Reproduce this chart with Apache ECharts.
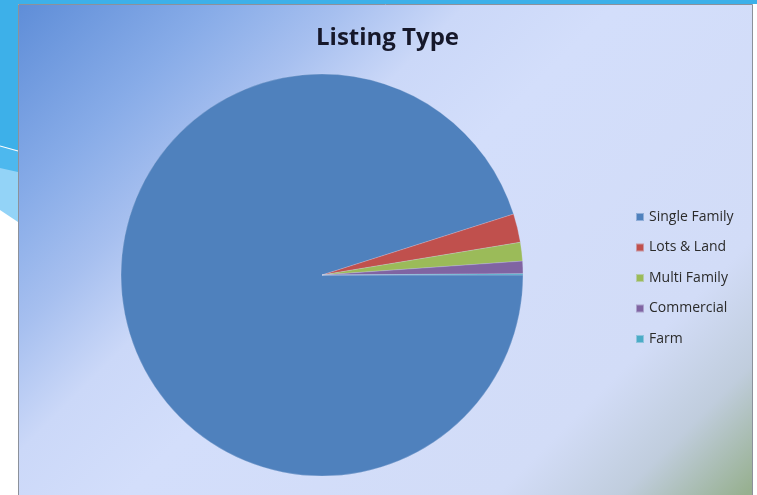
<!DOCTYPE html>
<html>
<head>
<meta charset="utf-8">
<script src="https://cdn.jsdelivr.net/npm/echarts@6/dist/echarts.min.js"></script>
<style>
html,body{margin:0;padding:0;background:#ffffff;}
#c{width:757px;height:495px;}
</style>
</head>
<body>
<div id="c"></div>
<script>
var categories = ['Single Family', 'Lots & Land', 'Multi Family', 'Commercial', 'Farm'];
var values = [951, 23, 15, 10, 1];
var colors = ['#4F81BD', '#C0504D', '#9BBB59', '#8064A2', '#4BACC6'];
var titleText = 'Listing Type';

var chart = echarts.init(document.getElementById('c'), null, {renderer: 'canvas'});
var pieData = categories.map(function (c, i) {
  return {name: c, value: values[i], itemStyle: {color: colors[i]}};
});

chart.setOption({
  animation: false,
  backgroundColor: 'transparent',
  graphic: [
    {type: 'rect', z: -10, shape: {x: 0, y: 0, width: 757, height: 495}, style: {fill: '#ffffff'}},
    {type: 'rect', z: -10, shape: {x: 0, y: 0, width: 757, height: 4}, style: {fill: '#3DB0E9'}},
    {type: 'polygon', z: -10, shape: {points: [[0, 0], [18, 0], [18, 222], [0, 210]]}, style: {fill: '#93D3F7'}},
    {type: 'polygon', z: -10, shape: {points: [[0, 0], [18, 0], [18, 172], [0, 168]]}, style: {fill: '#4DB8EE'}},
    {type: 'polygon', z: -10, shape: {points: [[0, 0], [18, 0], [18, 150], [0, 146]]}, style: {fill: '#3DB0E9'}},
    {type: 'polyline', z: -9, shape: {points: [[0, 146], [18, 151]]}, style: {stroke: '#ffffff', lineWidth: 1.2}},
    {type: 'rect', z: -8, shape: {x: 18.5, y: 4.5, width: 734, height: 495},
      style: {
        fill: new echarts.graphic.LinearGradient(0, 0, 620, 620, [
          {offset: 0, color: '#5A8AD6'},
          {offset: 0.18, color: '#88ACE8'},
          {offset: 0.28, color: '#A6BFEF'},
          {offset: 0.38, color: '#CBD8F8'},
          {offset: 0.5, color: '#D3DEFB'},
          {offset: 0.8, color: '#D2DCF7'},
          {offset: 0.9, color: '#C0CDDD'},
          {offset: 1, color: '#97B090'}
        ], true),
        stroke: '#8C919B', lineWidth: 1
      }}
  ],
  title: {
    text: titleText,
    left: 311,
    top: 21,
    textStyle: {fontFamily: 'Open Sans', fontWeight: 'bold', fontSize: 24, color: '#16182A'}
  },
  legend: {
    orient: 'vertical',
    left: 630,
    top: 205,
    itemWidth: 8,
    itemHeight: 8,
    itemGap: 16.5,
    icon: 'rect',
    data: categories,
    textStyle: {fontFamily: 'Open Sans', fontSize: 14, color: '#2B2B2B'}
  },
  series: [{
    type: 'pie',
    center: [322, 275],
    radius: [0, 201],
    startAngle: 0,
    clockwise: true,
    label: {show: false},
    labelLine: {show: false},
    emphasis: {disabled: true},
    itemStyle: {borderColor: 'rgba(210,220,245,0.5)', borderWidth: 0.5},
    data: pieData
  }]
});
</script>
</body>
</html>
